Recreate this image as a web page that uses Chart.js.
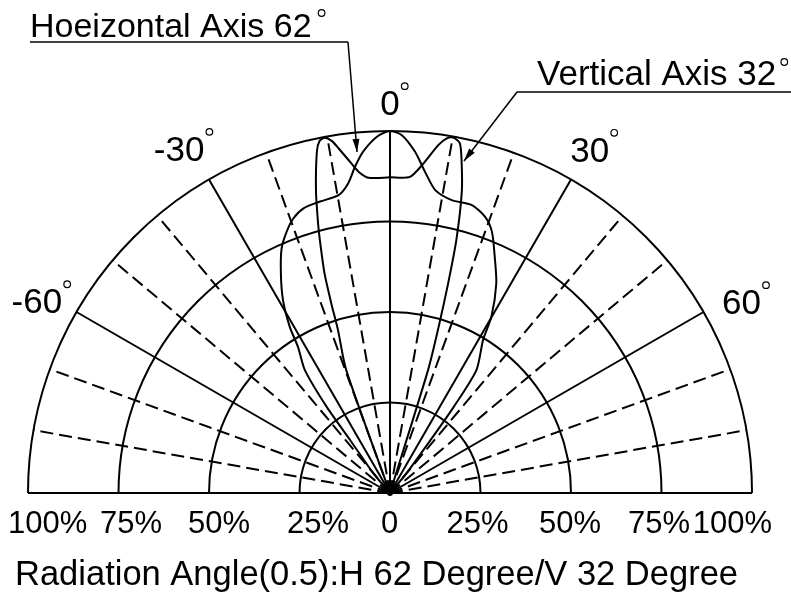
<!DOCTYPE html>
<html>
<head>
<meta charset="utf-8">
<script src="https://cdn.jsdelivr.net/npm/chart.js@4.4.0/dist/chart.umd.min.js"></script>
<style>
  html, body { margin: 0; padding: 0; background: #fff; }
  #wrap { width: 791px; height: 600px; position: relative; }
</style>
</head>
<body>
<div id="wrap"><canvas id="myChart"></canvas></div>
<script>
// angle in degrees (0 = straight up, + = right), relative intensity in %
const hAngle = [-42, -40.3, -37, -36.3, -34.7, -32.2, -31.1, -29, -26.4, -23.9, -21.6, -19.4, -16.9, -13.5, -9.8, -7.7, -6.1, -4.5, -2.1, 0, 1.9, 4.2, 6.2, 8.5, 11.9, 15.8, 19, 21.3, 23.9, 26.9, 29.9, 31.3, 35.1, 36.5, 37.5, 40, 42];
const hLevel = [0, 7, 18, 29.6, 41.3, 47.7, 53.6, 61, 67.8, 73.9, 77.6, 80.4, 82.2, 82.8, 83.5, 86.3, 90.7, 94.6, 98.5, 100, 98.9, 94.5, 89.3, 84.6, 82.7, 82.7, 80.7, 77.5, 71.4, 64.9, 56.2, 49.5, 41.5, 29.6, 18, 7, 0];

const vAngle = [-19.6, -19.6, -17.7, -17.2, -16.6, -15.5, -15.0, -13.8, -12.1, -11.3, -10.4, -9.4, -8.5, -6.9, -5.6, -3.9, 0, 3.6, 5.8, 7.9, 9.1, 10.1, 11.3, 12.2, 13.4, 14.7, 15.5, 16.3, 17.2, 17.8];
const vLevel = [0, 36.1, 47.3, 54.9, 63.3, 72.5, 76.6, 85.7, 96.4, 99.2, 99.8, 98.6, 96.3, 92.2, 89.2, 87.3, 87.2, 87.5, 91.5, 97, 99.2, 99.7, 98.5, 93.6, 85.6, 72.2, 60.1, 48, 35.6, 0];

const ringLevels = [25, 50, 75, 100];
const spokeAngles = [-80, -70, -60, -50, -40, -30, -20, -10, 0, 10, 20, 30, 40, 50, 60, 70, 80];
const solidSpokes = [-60, -30, 0, 30, 60];
const angleTicks = ['-60', '-30', '0', '30', '60'];
const radiusTicks = ['100%', '75%', '50%', '25%', '0', '25%', '50%', '75%', '100%'];
const radiusTickVals = [-100, -75, -50, -25, 0, 25, 50, 75, 100];

const FONT = '"Liberation Sans", Arial, sans-serif';

function toXY(angles, levels) {
  return angles.map((a, i) => ({
    x: levels[i] * Math.sin(a * Math.PI / 180),
    y: levels[i] * Math.cos(a * Math.PI / 180)
  }));
}

function degree(ctx, x, y, r) {
  ctx.save();
  ctx.lineWidth = 1.2;
  ctx.setLineDash([]);
  ctx.beginPath();
  ctx.arc(x, y, r, 0, Math.PI * 2);
  ctx.stroke();
  ctx.restore();
}

function arrow(ctx, x1, y1, x2, y2) {
  ctx.beginPath();
  ctx.moveTo(x1, y1);
  ctx.lineTo(x2, y2);
  ctx.stroke();
  let ang = Math.atan2(y2 - y1, x2 - x1);
  let len = 13, w = 3.5;
  ctx.beginPath();
  ctx.moveTo(x2, y2);
  ctx.lineTo(x2 - len * Math.cos(ang) + w * Math.sin(ang), y2 - len * Math.sin(ang) - w * Math.cos(ang));
  ctx.lineTo(x2 - len * Math.cos(ang) - w * Math.sin(ang), y2 - len * Math.sin(ang) + w * Math.cos(ang));
  ctx.closePath();
  ctx.fill();
}

// polar grid under the curves
const gridPlugin = {
  id: 'polarGrid',
  beforeDatasetsDraw(chart) {
    const {ctx, scales: {x, y}} = chart;
    const cx = x.getPixelForValue(0), cy = y.getPixelForValue(0);
    const u = x.getPixelForValue(1) - cx;
    ctx.save();
    ctx.strokeStyle = '#000';
    ctx.lineWidth = 2;
    ringLevels.forEach(r => {
      ctx.beginPath();
      ctx.arc(cx, cy, r * u, Math.PI, Math.PI * 2);
      ctx.stroke();
    });
    ctx.beginPath();
    ctx.moveTo(cx - 100 * u, cy);
    ctx.lineTo(cx + 100 * u, cy);
    ctx.stroke();
    spokeAngles.forEach(a => {
      const t = a * Math.PI / 180;
      ctx.setLineDash(solidSpokes.includes(a) ? [] : [13, 6]);
      ctx.beginPath();
      ctx.moveTo(cx, cy);
      ctx.lineTo(cx + 100 * u * Math.sin(t), cy - 100 * u * Math.cos(t));
      ctx.stroke();
    });
    ctx.setLineDash([]);
    ctx.beginPath();
    ctx.arc(cx, cy, 3, 0, Math.PI * 2);
    ctx.fill();
    ctx.restore();
  }
};

// texts, leaders and labels
const textPlugin = {
  id: 'labels',
  afterDraw(chart) {
    const {ctx, scales: {x, y}} = chart;
    const cx = x.getPixelForValue(0), cy = y.getPixelForValue(0);
    const u = x.getPixelForValue(1) - cx;
    ctx.save();
    ctx.fillStyle = '#000';
    ctx.strokeStyle = '#000';

    // angle labels, placed around the outer ring
    const spots = [[-61.5, 111], [-31.5, 111.5], [0, 107.7], [30.2, 109.7], [61.5, 110.5]];
    ctx.font = '35px ' + FONT;
    ctx.textAlign = 'center';
    ctx.textBaseline = 'alphabetic';
    angleTicks.forEach((t, i) => {
      const a = spots[i][0] * Math.PI / 180, r = spots[i][1] * u;
      const px = cx + r * Math.sin(a), py = cy - r * Math.cos(a) + 12;
      ctx.fillText(t, px, py);
      const w = ctx.measureText(t).width;
      degree(ctx, px + w / 2 + 5, py - 29, 3.3);
    });

    // radius labels along the base line
    const nudge = [0, 12.5, 10, 18.5, -0.5, -3, -1, -2.5, -19.5];
    ctx.font = '31px ' + FONT;
    radiusTickVals.forEach((v, i) => {
      let px = x.getPixelForValue(v) + nudge[i];
      const w = ctx.measureText(radiusTicks[i]).width;
      if (px - w / 2 < 8) px = 8 + w / 2;
      ctx.fillText(radiusTicks[i], px, 533);
    });

    // title
    ctx.font = '34.5px ' + FONT;
    ctx.textAlign = 'left';
    ctx.fillText('Radiation Angle(0.5):H 62 Degree/V 32 Degree', 15, 585);

    // Horizontal annotation
    ctx.font = '34px ' + FONT;
    ctx.fillText('Hoeizontal Axis 62', 30, 37);
    let w1 = ctx.measureText('Hoeizontal Axis 62').width;
    degree(ctx, 30 + w1 + 10, 13, 3.3);
    ctx.lineWidth = 1.5;
    ctx.beginPath();
    ctx.moveTo(30, 42);
    ctx.lineTo(348, 42);
    ctx.stroke();
    arrow(ctx, 348, 42, 357, 152);

    // Vertical annotation
    ctx.font = '35px ' + FONT;
    ctx.fillText('Vertical Axis 32', 537, 85);
    let w2 = ctx.measureText('Vertical Axis 32').width;
    degree(ctx, 537 + w2 + 8, 62, 3.3);
    ctx.beginPath();
    ctx.moveTo(517, 92);
    ctx.lineTo(791, 92);
    ctx.stroke();
    arrow(ctx, 517, 92, 464, 161);
    ctx.restore();
  }
};

new Chart(document.getElementById('myChart'), {
  type: 'scatter',
  data: {
    datasets: [
      {label: 'Horizontal', data: toXY(hAngle, hLevel)},
      {label: 'Vertical', data: toXY(vAngle, vLevel)}
    ].map(d => Object.assign(d, {
      showLine: true, borderColor: '#000', borderWidth: 2, pointRadius: 0,
      tension: 0.25, clip: false, fill: false
    }))
  },
  options: {
    responsive: true,
    maintainAspectRatio: false,
    animation: false,
    layout: {padding: {left: 28, right: 39, top: 131, bottom: 107}},
    plugins: {legend: {display: false}, tooltip: {enabled: false}},
    scales: {
      x: {type: 'linear', min: -100, max: 100, display: false},
      y: {type: 'linear', min: 0, max: 100, display: false}
    }
  },
  plugins: [gridPlugin, textPlugin]
});
</script>
</body>
</html>
